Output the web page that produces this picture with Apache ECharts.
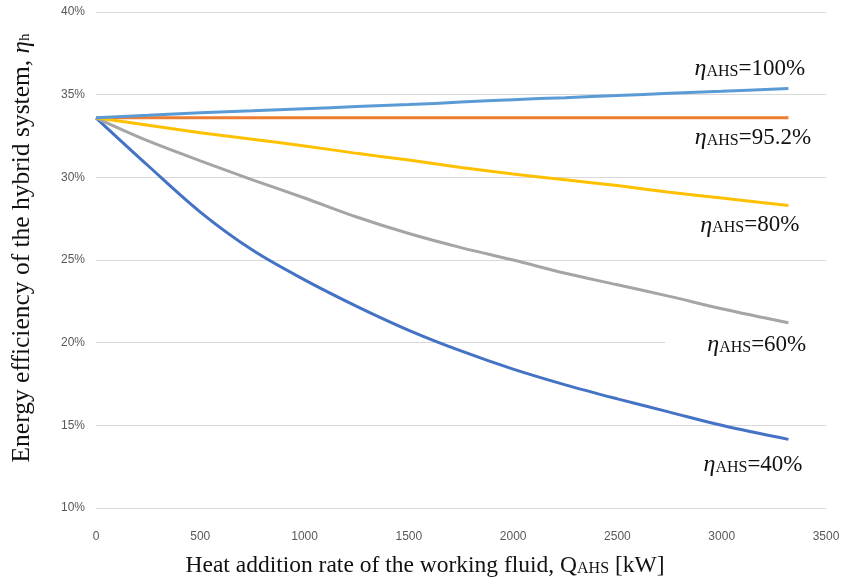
<!DOCTYPE html>
<html>
<head>
<meta charset="utf-8">
<script src="https://cdn.jsdelivr.net/npm/echarts@6/dist/echarts.min.js"></script>
<style>html,body{margin:0;padding:0;background:#fff}#c{width:843px;height:586px}</style>
</head>
<body>
<div id="c"></div>
<script>
// Heat addition rate Q_AHS [kW]
const qValues = [0, 250, 500, 750, 1000, 1250, 1500, 1750, 2000, 2250, 2500, 2750, 3000, 3320];
// Energy efficiency of hybrid system [%] for each AHS efficiency
const eta40  = [33.6, 30.7, 27.9, 25.6, 23.8, 22.2, 20.75, 19.5, 18.4, 17.45, 16.6, 15.8, 15.0, 14.15];
const eta952 = [33.6, 33.6, 33.6, 33.6, 33.6, 33.6, 33.6, 33.6, 33.6, 33.6, 33.6, 33.6, 33.6, 33.6];
const eta60  = [33.6, 32.2, 31.0, 29.85, 28.75, 27.6, 26.6, 25.75, 25.0, 24.2, 23.5, 22.8, 22.05, 21.2];
const eta80  = [33.6, 33.15, 32.7, 32.3, 31.9, 31.45, 31.05, 30.6, 30.2, 29.85, 29.5, 29.1, 28.75, 28.3];
const eta100 = [33.6, 33.75, 33.9, 34.02, 34.15, 34.28, 34.4, 34.55, 34.7, 34.82, 34.95, 35.08, 35.2, 35.37];
const seriesNames = ['ηAHS=40%', 'ηAHS=95.2%', 'ηAHS=60%', 'ηAHS=80%', 'ηAHS=100%'];
const seriesLabels = ['40%', '95.2%', '60%', '80%', '100%'];
const yTicks = [10, 15, 20, 25, 30, 35, 40];
const xTicks = [0, 500, 1000, 1500, 2000, 2500, 3000, 3500];
// label anchor positions (data space)
const labelPos = [[3150, 12.6], [3150, 32.4], [3120, 19.85], [3135, 27.1], [3135, 36.55]];

const colors = ['#4472C4', '#ED7D31', '#A5A5A5', '#FFC000', '#5B9BD5'];
const allData = [eta40, eta952, eta60, eta80, eta100];

const serif = '"Liberation Serif", "Times New Roman", serif';
const richLbl = {
  eta: {fontFamily: serif, fontStyle: 'italic', fontSize: 24, color: '#111'},
  sub: {fontFamily: serif, fontSize: 16, color: '#111', padding: [6, 0, 0, 0]},
  n: {fontFamily: serif, fontSize: 23, color: '#111'}
};

const chart = echarts.init(document.getElementById('c'), null, {renderer: 'canvas'});
chart.setOption({
  animation: false,
  backgroundColor: '#fff',
  grid: {left: 96, right: 17, top: 12, bottom: 78, containLabel: false},
  xAxis: {
    type: 'value', min: xTicks[0], max: xTicks[xTicks.length - 1], interval: 500,
    axisLine: {show: false}, axisTick: {show: false},
    splitLine: {show: false},
    axisLabel: {color: '#595959', fontSize: 12, fontFamily: '"Liberation Sans", Arial, sans-serif', margin: 23,
      formatter: v => String(v)},
    name: '{t|Heat addition rate of the working fluid, Q}{s|AHS}{t| [kW]}',
    nameLocation: 'middle', nameGap: 46,
    nameTextStyle: {padding: [0, 72, 0, 0], rich: {
      t: {fontFamily: serif, fontSize: 23.5, color: '#111'},
      s: {fontFamily: serif, fontSize: 16, color: '#111', padding: [6, 0, 0, 0]}
    }}
  },
  yAxis: {
    type: 'value', min: yTicks[0], max: yTicks[yTicks.length - 1], interval: 5,
    axisLine: {show: false}, axisTick: {show: false},
    splitLine: {show: true, lineStyle: {color: '#d9d9d9', width: 1}},
    axisLabel: {color: '#595959', fontSize: 12, fontFamily: '"Liberation Sans", Arial, sans-serif', margin: 11, formatter: '{value}%'},
    name: '{t|Energy efficiency of the hybrid system, }{e|η}{s|h}',
    nameLocation: 'middle', nameGap: 61, nameRotate: 90,
    nameTextStyle: {padding: [0, 0, 0, 24], rich: {
      t: {fontFamily: serif, fontSize: 25.5, color: '#111'},
      e: {fontFamily: serif, fontSize: 25, fontStyle: 'italic', color: '#111'},
      s: {fontFamily: serif, fontSize: 15, color: '#111', padding: [7, 0, 0, 0]}
    }}
  },
  series: allData.map((d, i) => ({
    name: seriesNames[i],
    type: 'line',
    smooth: 0.35,
    showSymbol: false,
    symbol: 'none',
    data: qValues.map((q, k) => [q, d[k]]),
    lineStyle: {color: colors[i], width: 3},
    itemStyle: {color: colors[i]},
    z: 3,
    markPoint: {
      symbol: 'circle', symbolSize: 1,
      itemStyle: {color: 'rgba(0,0,0,0)'},
      data: [{coord: labelPos[i], value: 0}],
      label: {
        show: true, position: 'inside',
        formatter: '{eta|η}{sub|AHS}{n|=' + seriesLabels[i] + '}',
        backgroundColor: i === 2 ? '#fff' : 'transparent',
        padding: i === 2 ? [6, 22, 6, 42] : 0,
        rich: richLbl
      }
    }
  }))
});
</script>
</body>
</html>
